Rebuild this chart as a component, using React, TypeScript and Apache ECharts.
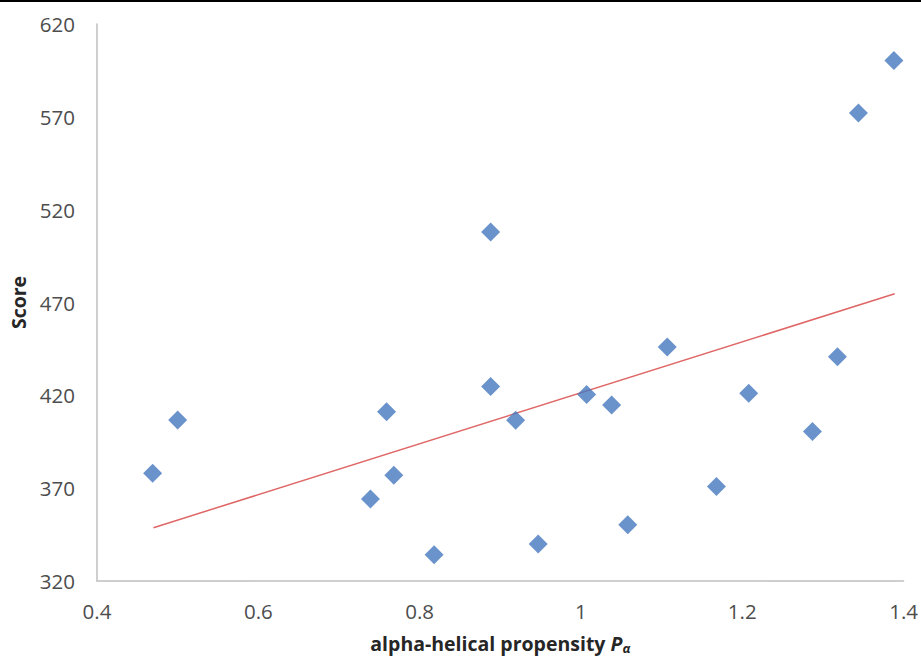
import React, { useEffect, useRef } from "react";
import * as echarts from "echarts";

const propensity = [0.469, 0.5, 0.739, 0.759, 0.768, 0.818, 0.888, 0.888, 0.919, 0.947, 1.007, 1.038, 1.058, 1.107, 1.168, 1.208, 1.287, 1.318, 1.344, 1.388];
const scores = [378.1, 406.7, 364.1, 411.2, 377.0, 334.1, 508.0, 424.7, 406.6, 339.9, 420.5, 414.8, 350.3, 446.0, 370.9, 421.1, 400.5, 440.8, 572.0, 600.3];
const trendX = [0.47, 1.389];
const trendY = [348.7, 474.7];

const FONT = "'Open Sans', 'Noto Sans', sans-serif";

export default function App() {
  const ref = useRef<HTMLDivElement>(null);
  useEffect(() => {
    if (!ref.current) return;
    const chart = echarts.init(ref.current, null, { renderer: "svg" });
    chart.setOption({
      animation: false,
      backgroundColor: "#ffffff",
      grid: { left: 97, top: 24, right: 16, bottom: 77, containLabel: false },
      graphic: [
        { type: "rect", left: 0, top: 0, shape: { width: 921, height: 2 }, style: { fill: "#000" } },
      ],
      xAxis: {
        type: "value",
        min: 0.4,
        max: 1.4,
        interval: 0.2,
        axisLine: { show: true, lineStyle: { color: "#BFBFBF", width: 1.5 } },
        axisTick: { show: false },
        splitLine: { show: false },
        axisLabel: { color: "#4D4D4D", fontSize: 20.5, fontFamily: FONT, margin: 19 },
        name: "alpha-helical propensity {i|P}{sub|α}",
        nameLocation: "middle",
        nameGap: 51,
        nameTextStyle: {
          color: "#262626",
          fontSize: 19.5,
          fontWeight: "bold",
          fontFamily: FONT,
          rich: {
            i: { fontSize: 19.5, fontWeight: "bold", fontStyle: "italic", fontFamily: FONT, color: "#262626" },
            sub: { fontSize: 13, fontWeight: "bold", fontStyle: "italic", fontFamily: FONT, color: "#262626", verticalAlign: "bottom", padding: [9, 0, 0, 0] },
          },
        },
      },
      yAxis: {
        type: "value",
        min: 320,
        max: 620,
        interval: 50,
        axisLine: { show: true, lineStyle: { color: "#BFBFBF", width: 1.5 } },
        axisTick: { show: false },
        splitLine: { show: false },
        axisLabel: { color: "#4D4D4D", fontSize: 20.5, fontFamily: FONT, margin: 22 },
        name: "Score",
        nameLocation: "middle",
        nameGap: 68,
        nameTextStyle: { color: "#262626", fontSize: 19.5, fontWeight: "bold", fontFamily: FONT },
      },
      series: [
        {
          type: "line",
          data: trendX.map((x, i) => [x, trendY[i]]),
          symbol: "none",
          lineStyle: { color: "#E06666", width: 1.5 },
          z: 1,
        },
        {
          type: "scatter",
          data: propensity.map((x, i) => [x, scores[i]]),
          symbol: "diamond",
          symbolSize: [19, 19],
          itemStyle: { color: "#4678BE" },
          z: 2,
        },
      ],
    });
    return () => chart.dispose();
  }, []);
  return <div ref={ref} style={{ position: "fixed", left: 0, top: 0, width: 921, height: 659 }} />;
}
